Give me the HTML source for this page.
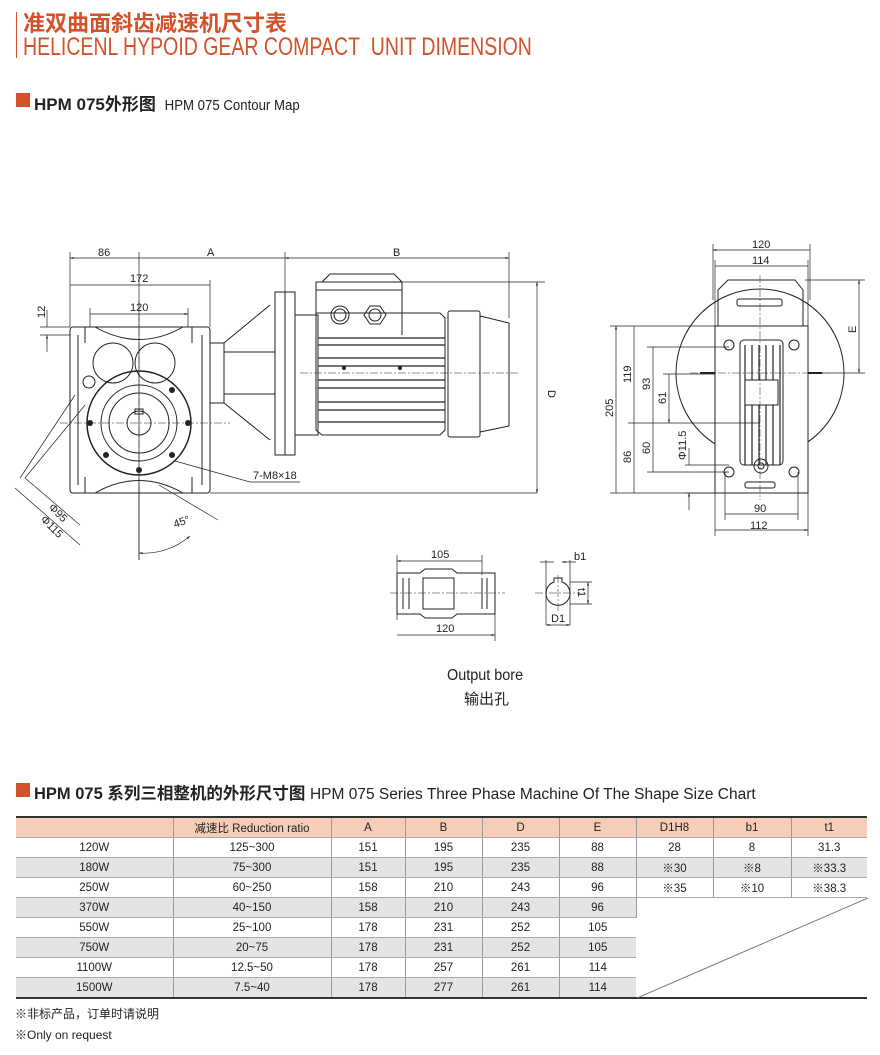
<!DOCTYPE html>
<html><head><meta charset="utf-8"><style>
body{margin:0;background:#fff;width:880px;height:1055px;position:relative;overflow:hidden;font-family:"Liberation Sans","Noto Sans CJK SC",sans-serif;color:#222}
.abs{position:absolute;white-space:nowrap}
table{position:absolute;left:16px;top:816px;border-collapse:collapse;font-size:11.5px;border-top:2px solid #333;border-bottom:2px solid #333}
td{height:19px;padding:0;text-align:center;border-right:1px solid #999;border-bottom:1px solid #aaa}
td:last-child{border-right:none}
tr.h td{background:#f6cdb9}
tr.g td{background:#e4e4e6}
td.w{background:#fff!important;border:none}
.n{display:inline-block;transform:scaleX(0.93);transform-origin:0 50%}
</style></head><body>
<div class="abs" style="left:16px;top:12px;width:1px;height:46px;background:#d2522a"></div>
<div class="abs" style="left:23px;top:6px;font:bold 22px 'Liberation Sans','Noto Sans CJK SC',sans-serif;color:#d2522a">准双曲面斜齿减速机尺寸表</div>
<div class="abs" style="left:23px;top:33px;font-size:25px;color:#d2522a;transform:scaleX(0.78);transform-origin:0 0">HELICENL HYPOID GEAR COMPACT&nbsp; UNIT DIMENSION</div>
<div class="abs" style="left:16px;top:93px;width:14px;height:14px;background:#d2522a"></div>
<div class="abs" style="left:34px;top:90px;font:bold 17px 'Liberation Sans','Noto Sans CJK SC',sans-serif">HPM 075外形图 <span style="font:15px 'Liberation Sans',sans-serif;font-weight:normal;display:inline-block;transform:scaleX(0.88);transform-origin:0 50%">&nbsp;HPM 075 Contour Map</span></div>

<svg class="abs" style="left:0;top:0" width="880" height="760" viewBox="0 0 880 760" font-family="Liberation Sans, sans-serif" font-size="11" fill="none" stroke="#222" stroke-width="1">
<defs><marker id="a" viewBox="0 0 10 10" refX="10" refY="5" markerWidth="7" markerHeight="5" orient="auto-start-reverse"><path d="M0,2L10,5L0,8z" fill="#222" stroke="none"/></marker></defs>
<g stroke-width="0.7">
<path d="M70,252V327M139,252V560M285,252V292M210,280V327M90,308V327M188,308V327M40,327H70M40,335H70M537,493H210"/>
<path d="M70,258H139M139,258H285M70,285H210M90,314H188" marker-start="url(#a)" marker-end="url(#a)"/>
<path d="M285,258H509" marker-start="url(#a)" marker-end="url(#a)"/>
<path d="M509,252V318M402,282H545"/>
<path d="M537,282V493" marker-start="url(#a)" marker-end="url(#a)"/>
<path d="M47,310V327M47,352V335" marker-end="url(#a)"/>
<path d="M159,485L218,520M139,487L139,560"/>
<path d="M25,478L80,525M15,488L80,545M75,395L20,478M85,405L25,478"/>
<path d="M139,553A70,70 0 0 0 190,536" marker-start="url(#a)" marker-end="url(#a)"/>
<path d="M175,461L250,482H300"/>
</g>
<g fill="#222" stroke="none">
<text x="98" y="256">86</text><text x="207" y="256">A</text><text x="393" y="256">B</text>
<text x="130" y="282">172</text><text x="130" y="311">120</text>
<text x="253" y="479">7-M8×18</text>
<text x="45" y="318" transform="rotate(-90 45 318)">12</text>
<text x="548" y="390" transform="rotate(90 548 390)">D</text>
<text x="48" y="508" transform="rotate(45 48 508)">Φ95</text>
<text x="40" y="520" transform="rotate(45 40 520)">Φ115</text>
<text x="175" y="528" transform="rotate(-20 175 528)">45°</text>
</g>
<rect x="70" y="327" width="140" height="166" rx="3"/>
<path d="M78,335V485M202,335V485M85,327V343M192,327V343M85,477V493M192,477V493"/>
<path d="M95,327Q139,352 183,327M95,493Q139,468 183,493" />
<circle cx="113" cy="363" r="20"/><circle cx="155" cy="363" r="20"/>
<circle cx="139" cy="423" r="52" stroke-width="1.5"/>
<circle cx="139" cy="423" r="38"/><circle cx="139" cy="423" r="30"/>
<circle cx="139" cy="423" r="12"/><rect x="135" y="409" width="8" height="5"/>
<circle cx="89" cy="382" r="6"/>
<g fill="#222" stroke="none"><circle cx="139" cy="470" r="3"/><circle cx="172" cy="455" r="3"/><circle cx="188" cy="423" r="3"/><circle cx="90" cy="423" r="3"/><circle cx="106" cy="455" r="3"/><circle cx="172" cy="390" r="3"/></g>
<path d="M60,423H230M139,300V500" stroke-dasharray="8,2,2,2" stroke-width="0.5"/>
<rect x="210" y="343" width="14" height="60"/>
<path d="M224,343L270,305M224,403L270,440M224,352H275M224,394H275"/>
<rect x="275" y="292" width="20" height="163"/><path d="M285,292V455"/>
<rect x="295" y="315" width="23" height="120"/>
<path d="M316,335V282H402V335M322,282L330,274H394L402,282M316,290H402"/>
<circle cx="340" cy="315" r="9"/><circle cx="340" cy="315" r="6"/>
<path d="M370,306L380,306L386,315L380,324L370,324L364,315Z"/><circle cx="375" cy="315" r="6"/>
<path d="M316,313H440L445,318V430L440,435H322L316,430Z"/>
<path d="M318,338H445M318,345H445M318,358H445M318,366H445M318,380H445M318,388H445M318,402H445M318,410H445M318,422H445" stroke-width="1.3"/>
<circle cx="344" cy="368" r="1.5" fill="#222"/><circle cx="400" cy="368" r="1.5" fill="#222"/>
<rect x="448" y="311" width="32" height="126" rx="2"/>
<path d="M480,316L509,323V426L480,432Z"/>
<path d="M300,373H520" stroke-dasharray="8,2,2,2" stroke-width="0.5"/>
<circle cx="760" cy="373" r="84"/>
<path d="M718,326V290L728,280H795L803,290V326"/>
<rect x="715" y="326" width="93" height="167" fill="#fff"/>
<rect x="740" y="340" width="43" height="125" rx="4"/>
<path d="M745,345V465M752,345V465M759,345V465M766,345V465M773,345V465M780,345V465" stroke-width="1.2"/>
<rect x="745" y="380" width="33" height="25" fill="#fff"/>
<circle cx="729" cy="345" r="5"/><circle cx="794" cy="345" r="5"/><circle cx="729" cy="472" r="5"/><circle cx="794" cy="472" r="5"/>
<circle cx="761" cy="466" r="7"/><circle cx="761" cy="466" r="3"/>
<path d="M700,373H715M808,373H822" stroke-width="2"/>
<rect x="737" y="299" width="45" height="7" rx="2"/><rect x="745" y="482" width="30" height="6" rx="2"/>
<g stroke-width="0.7">
<path d="M713,244V300M810,244V300M715,260V326M808,260V326M725,472V520M798,472V520M715,493V536M808,493V536"/>
<path d="M713,250H810M715,266H808M725,514H798M715,530H808" marker-start="url(#a)" marker-end="url(#a)"/>
<path d="M610,326H715M610,493H715M628,423H760M647,347H729M663,374H715M647,472H729"/>
<path d="M616,326V493M634,326V423M634,423V493M653,347V423M653,423V472M669,374V423" marker-start="url(#a)" marker-end="url(#a)"/>
<path d="M689,448V465M689,510V493" marker-end="url(#a)"/><path d="M685,465H729M685,493H715"/>
<path d="M805,280H865M810,373H865"/>
<path d="M859,280V373" marker-start="url(#a)" marker-end="url(#a)"/>
</g>
<path d="M760,275V500M690,373H830" stroke-dasharray="8,2,2,2" stroke-width="0.5"/>
<g fill="#222" stroke="none">
<text x="752" y="248">120</text><text x="752" y="264">114</text><text x="754" y="512">90</text><text x="750" y="529">112</text>
<text x="613" y="417" transform="rotate(-90 613 417)">205</text>
<text x="631" y="383" transform="rotate(-90 631 383)">119</text>
<text x="631" y="463" transform="rotate(-90 631 463)">86</text>
<text x="650" y="390" transform="rotate(-90 650 390)">93</text>
<text x="666" y="404" transform="rotate(-90 666 404)">61</text>
<text x="650" y="454" transform="rotate(-90 650 454)">60</text>
<text x="686" y="460" transform="rotate(-90 686 460)">Φ11.5</text>
<text x="856" y="333" transform="rotate(-90 856 333)">E</text>
</g>
<path d="M397,573H420L425,569H452L457,573H495V614H457L452,618H425L420,614H397Z"/>
<path d="M403,578V609M409,578V609M487,578V609M482,578V609M423,578H454V609H423Z"/>
<path d="M390,593H505M535,593H580M558,575V612" stroke-dasharray="8,2,2,2" stroke-width="0.5"/>
<g stroke-width="0.7"><path d="M397,555V620M482,555V575M495,614V641M546,560V625M570,560V625M570,582H592M570,604H592"/>
<path d="M397,561H482M397,635H495" marker-start="url(#a)" marker-end="url(#a)"/>
<path d="M540,562H554M576,562H562" marker-end="url(#a)"/><path d="M588,582V604" marker-start="url(#a)" marker-end="url(#a)"/>
<path d="M546,625H570" marker-start="url(#a)" marker-end="url(#a)"/></g>
<path d="M554,582A12,12 0 1 0 562,582V578H554Z"/>
<g fill="#222" stroke="none"><text x="431" y="558">105</text><text x="436" y="632">120</text>
<text x="574" y="560">b1</text><text x="551" y="622">D1</text><text x="578" y="588" transform="rotate(90 578 588)">t1</text></g>
</svg>
<div class="abs" style="left:447px;top:667px;font-size:15.5px"><span class="n">Output bore</span></div>
<div class="abs" style="left:464px;top:688px;font:15px 'Liberation Sans','Noto Sans CJK SC',sans-serif">输出孔</div>

<div class="abs" style="left:16px;top:783px;width:14px;height:14px;background:#d2522a"></div>
<div class="abs" style="left:34px;top:780px;font:bold 16.5px 'Liberation Sans','Noto Sans CJK SC',sans-serif">HPM 075 系列三相整机的外形尺寸图 <span style="font:15.5px 'Liberation Sans',sans-serif">HPM 075 Series Three Phase Machine Of The Shape Size Chart</span></div>

<table>
<colgroup><col style="width:157px"><col style="width:158px"><col style="width:74px"><col style="width:77px"><col style="width:77px"><col style="width:77px"><col style="width:77px"><col style="width:78px"><col style="width:76px"></colgroup>
<tr class="h"><td></td><td>减速比 Reduction ratio</td><td>A</td><td>B</td><td>D</td><td>E</td><td>D1H8</td><td>b1</td><td>t1</td></tr>
<tr><td>120W</td><td>125~300</td><td>151</td><td>195</td><td>235</td><td>88</td><td>28</td><td>8</td><td>31.3</td></tr>
<tr class="g"><td>180W</td><td>75~300</td><td>151</td><td>195</td><td>235</td><td>88</td><td>※30</td><td>※8</td><td>※33.3</td></tr>
<tr><td>250W</td><td>60~250</td><td>158</td><td>210</td><td>243</td><td>96</td><td>※35</td><td>※10</td><td>※38.3</td></tr>
<tr class="g"><td>370W</td><td>40~150</td><td>158</td><td>210</td><td>243</td><td>96</td><td class="w" colspan="3" rowspan="5" style="position:relative"><svg style="position:absolute;left:0;top:0" width="231" height="100"><path d="M0,100L231,0" stroke="#777" fill="none"/></svg></td></tr>
<tr><td>550W</td><td>25~100</td><td>178</td><td>231</td><td>252</td><td>105</td></tr>
<tr class="g"><td>750W</td><td>20~75</td><td>178</td><td>231</td><td>252</td><td>105</td></tr>
<tr><td>1100W</td><td>12.5~50</td><td>178</td><td>257</td><td>261</td><td>114</td></tr>
<tr class="g"><td>1500W</td><td>7.5~40</td><td>178</td><td>277</td><td>261</td><td>114</td></tr>
</table>
<div class="abs" style="left:15px;top:1005px;font:12px 'Liberation Sans','Noto Sans CJK SC',sans-serif">※非标产品，订单时请说明</div>
<div class="abs" style="left:15px;top:1026px;font-size:12px">※Only on request</div>
</body></html>
